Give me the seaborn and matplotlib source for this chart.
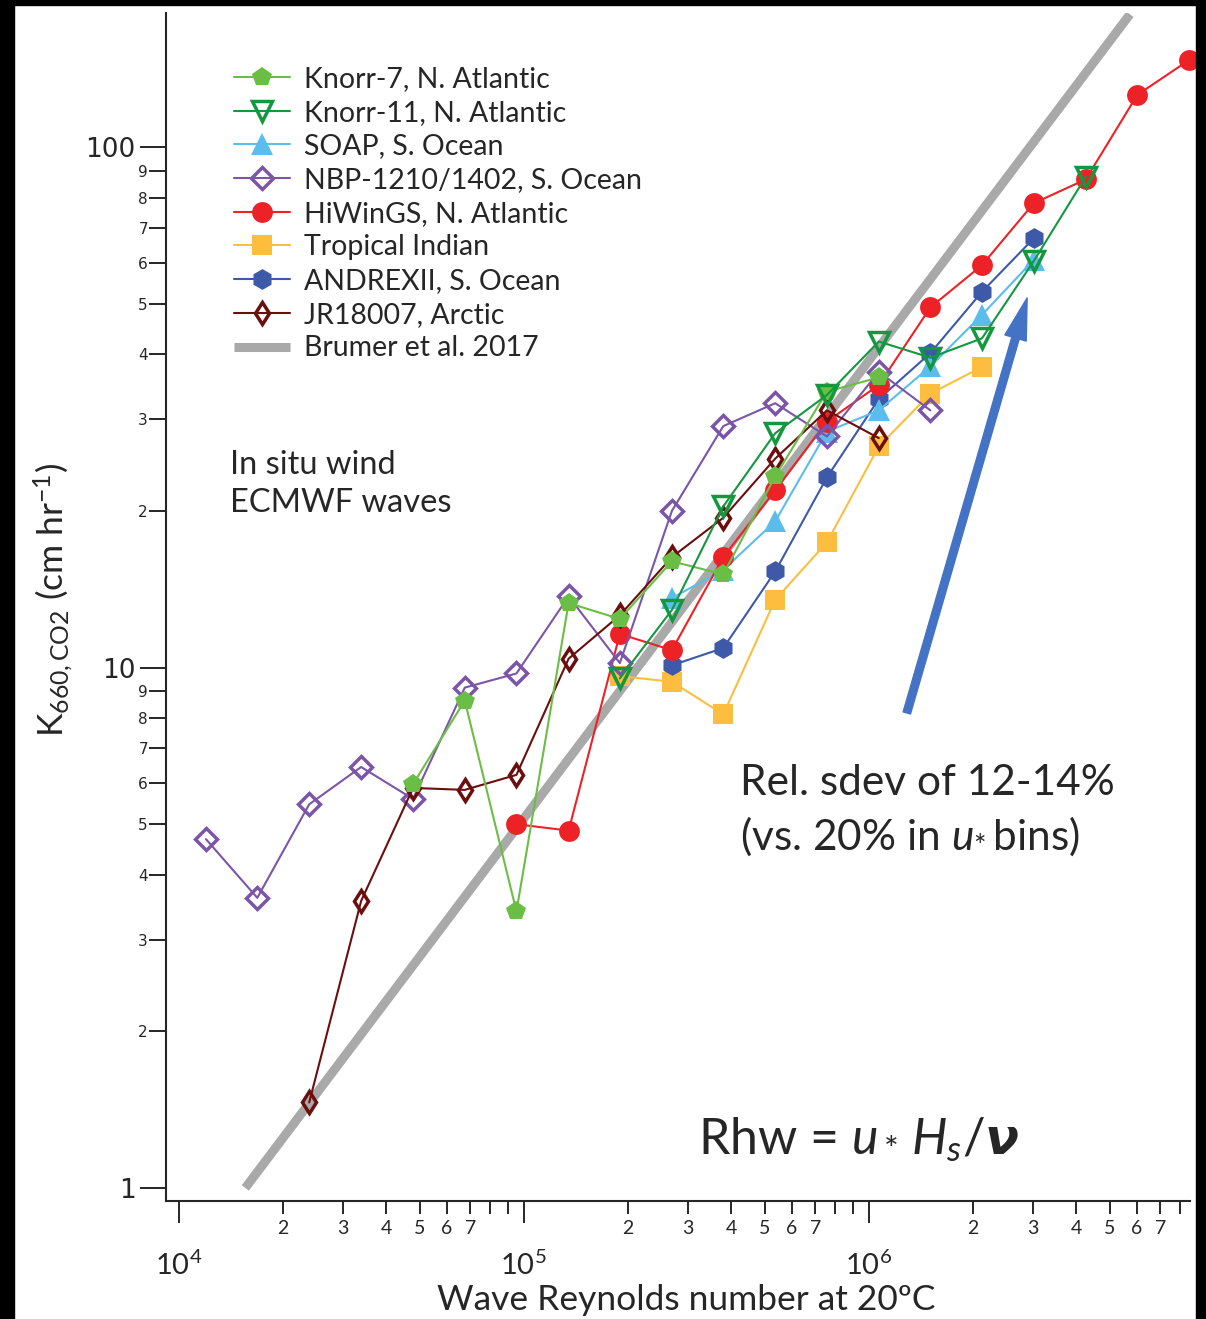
import numpy as np
import pandas as pd
import matplotlib
matplotlib.use("Agg")
import matplotlib.pyplot as plt
from matplotlib.patches import Rectangle
from matplotlib.ticker import FixedLocator, FixedFormatter
import seaborn as sns

nan = np.nan

# wave Reynolds number bin centres (log spaced)
re_bins = [1.20e4, 1.69e4, 2.39e4, 3.38e4, 4.78e4, 6.75e4, 9.53e4, 1.35e5, 1.90e5, 2.69e5,
           3.79e5, 5.36e5, 7.57e5, 1.07e6, 1.51e6, 2.13e6, 3.01e6, 4.26e6, 6.01e6, 8.49e6]

# K660 (cm/hr) per bin, nan where a cruise has no data
knorr7 = [nan, nan, nan, nan, 5.97, 8.64, 3.40, 13.3, 12.4, 16.0,
          15.1, 23.3, 33.9, 36.1, nan, nan, nan, nan, nan, nan]
knorr11 = [nan, nan, nan, nan, nan, nan, nan, nan, 9.53, 12.9,
           20.4, 28.2, 33.4, 42.3, 39.4, 42.9, 60.4, 87.7, nan, nan]
soap = [nan, nan, nan, nan, nan, nan, nan, nan, nan, 13.6,
        15.4, 19.1, 28.4, 31.2, 37.9, 47.6, 60.7, nan, nan, nan]
nbp = [4.68, 3.61, 5.46, 6.44, 5.59, 9.15, 9.74, 13.7, 10.2, 20.0,
       29.1, 32.2, 27.8, 37.0, 31.2, nan, nan, nan, nan, nan]
hiwings = [nan, nan, nan, nan, nan, nan, 5.00, 4.86, 11.6, 10.8,
           16.3, 21.9, 29.7, 34.9, 49.2, 59.3, 78.0, 86.7, 126.0, 147.0]
tropical = [nan, nan, nan, nan, nan, nan, nan, nan, 9.63, 9.39,
            8.13, 13.5, 17.4, 26.6, 33.6, 37.8, nan, nan, nan, nan]
andrex = [nan, nan, nan, nan, nan, nan, nan, nan, nan, 10.1,
          10.9, 15.3, 23.2, 32.8, 40.2, 52.7, 66.8, nan, nan, nan]
jr18007 = [nan, nan, 1.46, 3.56, 5.87, 5.82, 6.22, 10.4, 12.6, 16.3,
           19.4, 25.2, 31.2, 27.6, nan, nan, nan, nan, nan, nan]

# Brumer et al. 2017 fit, end points
brumer_x = [1.56e4, 5.72e6]
brumer_y = [1.0, 180.0]

legend_order = ["Knorr-7, N. Atlantic", "Knorr-11, N. Atlantic", "SOAP, S. Ocean",
                "NBP-1210/1402, S. Ocean", "HiWinGS, N. Atlantic", "Tropical Indian",
                "ANDREXII, S. Ocean", "JR18007, Arctic", "Brumer et al. 2017"]

# name, values, color, marker, size, filled  (listed in drawing order)
series = [
    ("Tropical Indian", tropical, "#FDBE40", "s", 14, True),
    ("ANDREXII, S. Ocean", andrex, "#3D59A8", "h", 15, True),
    ("SOAP, S. Ocean", soap, "#5BBDEB", "^", 16, True),
    ("HiWinGS, N. Atlantic", hiwings, "#EC2227", "o", 15, True),
    ("NBP-1210/1402, S. Ocean", nbp, "#7B55A8", "D", 11, False),
    ("JR18007, Arctic", jr18007, "#6B0E0E", "d", 11.5, False),
    ("Knorr-7, N. Atlantic", knorr7, "#6BBE45", "p", 15, True),
    ("Knorr-11, N. Atlantic", knorr11, "#13983F", "v", 14, False),
]

sns.set_style("ticks")
plt.rcParams["font.family"] = ["Lato", "DejaVu Sans"]
plt.rcParams["mathtext.fontset"] = "custom"
plt.rcParams["mathtext.rm"] = "Lato"
plt.rcParams["mathtext.it"] = "Lato:italic"
plt.rcParams["mathtext.bf"] = "Lato:bold"

fig = plt.figure(figsize=(12.06, 13.19), dpi=100)
ax = fig.add_axes([166 / 1206, 118 / 1319, 1024 / 1206, 1188 / 1319])
ax.set_xscale("log")
ax.set_yscale("log")

ax.plot(brumer_x, brumer_y, color="#A9A9A9", lw=6.5, solid_capstyle="butt",
        label="Brumer et al. 2017", zorder=1)

for name, vals, color, marker, ms, filled in series:
    df = pd.DataFrame({"re": re_bins, "k": vals}).dropna()
    sns.lineplot(data=df, x="re", y="k", ax=ax, color=color, lw=1.5,
                 marker=marker, markersize=ms,
                 markerfacecolor=color if filled else "none",
                 markeredgecolor=color, markeredgewidth=0 if filled else 2.5,
                 estimator=None, sort=False, label=name, clip_on=False)

ax.set_xlim(9.19e3, 8.54e6)
ax.set_ylim(0.944, 181)

# ticks, Igor style: labelled minor ticks
ax.xaxis.set_major_locator(FixedLocator([1e4, 1e5, 1e6]))
ax.xaxis.set_major_formatter(FixedFormatter([r"$10^{4}$", r"$10^{5}$", r"$10^{6}$"]))
xminor = [m * 10 ** e for e in (4, 5, 6) for m in range(2, 10)]
ax.xaxis.set_minor_locator(FixedLocator(xminor))
ax.xaxis.set_minor_formatter(FixedFormatter([str(m) if m <= 7 else "" for e in (4, 5, 6) for m in range(2, 10)]))

ax.yaxis.set_major_locator(FixedLocator([1, 10, 100]))
ax.yaxis.set_major_formatter(FixedFormatter(["1", "10", "100"]))
yminor = [m * 10 ** e for e in (0, 1) for m in range(2, 10)]
ax.yaxis.set_minor_locator(FixedLocator(yminor))
ax.yaxis.set_minor_formatter(FixedFormatter([str(m) for e in (0, 1) for m in range(2, 10)]))

ax.tick_params(axis="x", which="major", length=16, width=1.4, pad=20, labelsize=21)
ax.tick_params(axis="x", which="minor", length=9.5, width=1.4, pad=4, labelsize=14)
ax.tick_params(axis="y", which="major", length=19, width=1.4, pad=3, labelsize=19,
               labelfontfamily="DejaVu Sans")
ax.tick_params(axis="y", which="minor", length=12, width=1.4, pad=1, labelsize=11,
               labelfontfamily="DejaVu Sans")

sns.despine(ax=ax)
for s in ("left", "bottom"):
    ax.spines[s].set_linewidth(1.5)

ax.set_xlabel("Wave Reynolds number at 20ºC", fontsize=25.5)
ax.xaxis.set_label_coords(0.508, -0.070)
ax.set_ylabel(r"K$_{660,\mathrm{CO2}}$ (cm hr$^{-1}$)", fontsize=25.5)
ax.yaxis.set_label_coords(-0.089, 0.506)

handles, labels = ax.get_legend_handles_labels()
lookup = dict(zip(labels, handles))
ax.legend([lookup[l] for l in legend_order], legend_order, loc="upper left",
          bbox_to_anchor=(234 / 1206, 1 - 66 / 1319), bbox_transform=fig.transFigure,
          frameon=False, fontsize=20.5, handlelength=1.95, handletextpad=0.5,
          labelspacing=0.27, borderpad=0, borderaxespad=0)

fig.text(230 / 1206, 1 - 484 / 1319, "In situ wind\nECMWF waves", fontsize=23.5,
         ha="left", va="center", linespacing=1.32)
fig.text(740 / 1206, 1 - 811 / 1319, "Rel. sdev of 12-14%\n(vs. 20% in $u_{*}\\,$bins)",
         fontsize=30.5, ha="left", va="center", linespacing=1.36)
fig.text(698 / 1206, 1 - 1140 / 1319, r"Rhw = $u_*\,H_s/\boldsymbol{\nu}$",
         fontsize=36, ha="left", va="center")

ax.annotate("", xy=(2.88e6, 51.3), xytext=(1.29e6, 8.18),
            arrowprops=dict(color="#4472C4", width=5.5, headwidth=16, headlength=30, shrink=0))

# black frame edges of the original figure
for x0, y0, w, h in [(0, 0, 14 / 1206, 1), (1196 / 1206, 0, 10 / 1206, 1), (0, 1 - 5 / 1319, 1, 5 / 1319)]:
    fig.add_artist(Rectangle((x0, y0), w, h, transform=fig.transFigure, color="black", zorder=10))

fig.savefig("out.png", dpi=100)
